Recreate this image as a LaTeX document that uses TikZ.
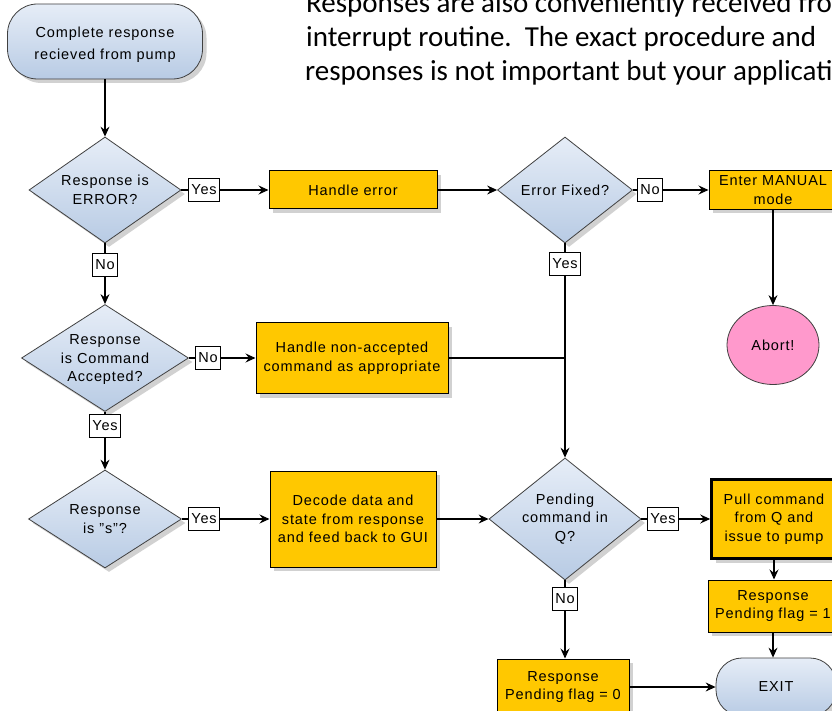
\documentclass[tikz,border=0pt]{standalone}
\usepackage{fontspec}
\setmainfont{Liberation Sans}[LetterSpace=6]
\newfontfamily\bodyfont{Carlito}
\usetikzlibrary{shapes.geometric,arrows.meta,shadows}
\definecolor{gold}{RGB}{255,200,0}
\definecolor{blueA}{RGB}{230,237,247}
\definecolor{blueB}{RGB}{184,203,228}
\definecolor{pinkA}{RGB}{255,153,204}
\tikzset{
  every node/.style={font=\fontsize{14.5}{18.5}\selectfont, align=center, inner sep=0pt},
  shadowed/.style={drop shadow={shadow xshift=4pt,shadow yshift=-4pt,fill=black!18,opacity=1}},
  proc/.style={rectangle, draw=black, line width=1pt, fill=gold, shadowed},
  dia/.style={diamond, draw=black!75, line width=0.8pt, top color=blueA, bottom color=blueB, shadowed},
  term/.style={rectangle, draw=black!75, line width=0.8pt, top color=blueA, bottom color=blueB, shadowed},
  lab/.style={rectangle, draw=black, fill=white, line width=0.8pt, inner xsep=3pt, minimum height=23pt},
  arr/.style={line width=1.1pt, -{Stealth[length=10pt,width=9pt,inset=3.5pt]}},
  ln/.style={line width=1.1pt},
  body/.style={anchor=base west, font=\bodyfont\fontsize{29}{33.5}\selectfont},
}
\begin{document}
\begin{tikzpicture}[x=1pt,y=-1pt]
\useasboundingbox (0,0) rectangle (832,711);
\clip (0,0) rectangle (832,711);
\fill[white] (0,0) rectangle (832,711);

% top text
\node[body] (t1) at (306,13) {Responses are also conveniently received from};
\node[body] (t2) at (306,47) {interrupt routine.\ \ The exact procedure and};
\node[body] (t3) at (305,80.5) {responses is not important but your application};

% nodes
\node[term, rounded corners=30pt, minimum width=195pt, minimum height=75pt,
  label={[font=\fontsize{14.5}{22}\selectfont, yshift=-3pt]center:Complete response\\recieved from pump}] (start) at (105,41.5) {};

\node[dia, minimum width=152pt, minimum height=106pt, label={center:Response is\\ERROR?}] (d1) at (105,190) {};
\node[dia, minimum width=167pt, minimum height=107pt, label={[yshift=-2pt]center:Response\\is Command\\Accepted?}] (d3) at (105,358) {};
\node[dia, minimum width=153pt, minimum height=98pt, label={center:Response\\is "s"?}] (d4) at (105,519) {};
\node[dia, minimum width=135pt, minimum height=106pt, label={center:Error Fixed?}] (d2) at (565,190) {};
\node[dia, minimum width=152pt, minimum height=122pt, label={center:Pending\\command in\\Q?}] (d5) at (565,519) {};

\node[proc, minimum width=168pt, minimum height=38pt] (he) at (353,190) {Handle error};
\node[proc, minimum width=128pt, minimum height=39pt] (man) at (773,190) {Enter MANUAL\\mode};
\node[ellipse, draw=black!75, line width=0.8pt, fill=pinkA, minimum width=92pt, minimum height=79pt] (abort) at (773,345) {Abort!};
\node[proc, minimum width=192pt, minimum height=71pt] (hna) at (352,358) {Handle non-accepted\\command as appropriate};
\node[proc, minimum width=166pt, minimum height=96pt] (dec) at (353,519) {Decode data and\\state from response\\and feed back to GUI};
\node[proc, line width=2.6pt, minimum width=125pt, minimum height=79pt] (pull) at (774,519) {Pull command\\from Q and\\issue to pump};
\node[proc, minimum width=130pt, minimum height=52pt] (f1) at (773,606) {Response\\Pending flag = 1};
\node[proc, minimum width=132pt, minimum height=56pt] (f0) at (563,687) {Response\\Pending flag = 0};
\node[term, rounded corners=26pt, minimum width=120pt, minimum height=58pt] (exit) at (776,687) {EXIT};

% yes / no labels
\node[lab] (y1) at (204,190) {Yes};
\node[lab] (n1) at (105,265) {No};
\node[lab] (n2) at (650,190) {No};
\node[lab] (y2) at (565,264) {Yes};
\node[lab] (n3) at (208,358) {No};
\node[lab] (y3) at (105,426) {Yes};
\node[lab] (y4) at (204,519) {Yes};
\node[lab] (y5) at (663,519) {Yes};
\node[lab] (n5) at (565,599) {No};
\coordinate (j) at (565,358);

% connectors
\draw[arr] (start.south) -- (d1.north);
\draw[ln] (d1.east) -- (y1.west);
\draw[arr] (y1.east) -- (he.west);
\draw[arr] (he.east) -- (d2.west);
\draw[ln] (d2.east) -- (n2.west);
\draw[arr] (n2.east) -- (man.west);
\draw[arr] (man.south) -- (abort.north);
\draw[ln] (d1.south) -- (n1.north);
\draw[arr] (n1.south) -- (d3.north);
\draw[ln] (d3.east) -- (n3.west);
\draw[arr] (n3.east) -- (hna.west);
\draw[ln] (hna.east) -- (j);
\draw[ln] (d2.south) -- (y2.north);
\draw[arr] (y2.south) -- (d5.north);
\draw[ln] (d3.south) -- (y3.north);
\draw[arr] (y3.south) -- (d4.north);
\draw[ln] (d4.east) -- (y4.west);
\draw[arr] (y4.east) -- (dec.west);
\draw[arr] (dec.east) -- (d5.west);
\draw[ln] (d5.east) -- (y5.west);
\draw[arr] (y5.east) -- (pull.west);
\draw[arr] (pull.south) -- (pull.south |- f1.north);
\draw[arr] (f1.south) -- (f1.south |- exit.north);
\draw[ln] (d5.south) -- (n5.north);
\draw[arr] (n5.south) -- (n5.south |- f0.north);
\draw[arr] (f0.east) -- (exit.west);
\end{tikzpicture}
\end{document}
